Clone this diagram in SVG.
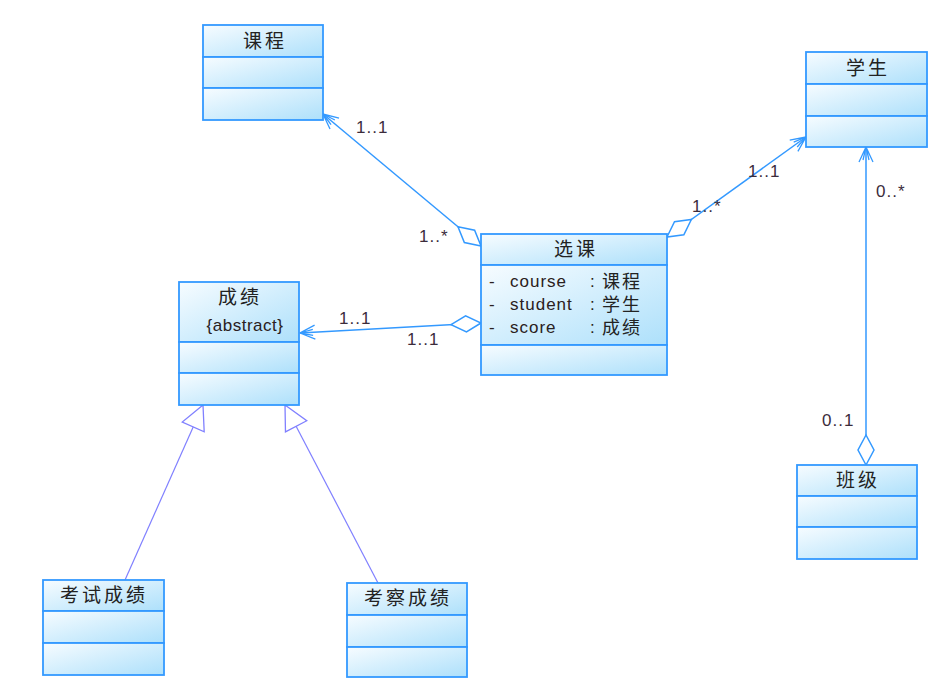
<svg xmlns="http://www.w3.org/2000/svg" width="946" height="698" viewBox="0 0 946 698">
<defs>
<linearGradient id="g" x1="0" y1="0" x2="1" y2="1">
<stop offset="0" stop-color="#f7fcff"/>
<stop offset="1" stop-color="#ade0fb"/>
</linearGradient>
<marker id="open" markerUnits="userSpaceOnUse" markerWidth="40" markerHeight="40" viewBox="-20 -20 40 40" refX="0" refY="0" orient="auto" overflow="visible">
<path d="M-15,-7 L0,0 L-15,7 M-13,-3 L0,0 L-13,3" fill="none" stroke="#3399ff" stroke-width="1.3"/>
</marker>
<marker id="dia" markerUnits="userSpaceOnUse" markerWidth="40" markerHeight="40" viewBox="-5 -20 40 40" refX="0" refY="0" orient="auto" overflow="visible">
<path d="M0,0 L15,-8 L30,0 L15,8 Z" fill="#fff" stroke="#3399ff" stroke-width="1.5"/>
</marker>
<marker id="tri" markerUnits="userSpaceOnUse" markerWidth="40" markerHeight="40" viewBox="-30 -20 40 40" refX="0" refY="0" orient="auto" overflow="visible">
<path d="M0,0 L-24,-12 L-24,12 Z" fill="#fff" stroke="#8080ff" stroke-width="1.3"/>
</marker>
</defs>
<style>
.c{fill:url(#g);stroke:#3399ff;stroke-width:1.8}
.t{font-family:"Noto Sans CJK SC","Liberation Sans",sans-serif;font-size:19px;fill:#222;text-anchor:middle;letter-spacing:3px}
.a{font-family:"Liberation Sans","Noto Sans CJK SC",sans-serif;font-size:17px;fill:#2a2020;letter-spacing:1px}
.ac{font-family:"Liberation Sans","Noto Sans CJK SC",sans-serif;font-size:18px;fill:#222;letter-spacing:2px}
.l{font-family:"Liberation Sans",sans-serif;font-size:17px;fill:#3c2c3c;letter-spacing:1px}
.as{fill:none;stroke:#3399ff;stroke-width:1.5}
.gen{fill:none;stroke:#8080ff;stroke-width:1.2}
</style>
<rect width="946" height="698" fill="#fff"/>
<g id="connectors">
<path class="as" d="M481,246 L323,114" marker-start="url(#dia)" marker-end="url(#open)"/>
<path class="as" d="M667,237 L806,137" marker-start="url(#dia)" marker-end="url(#open)"/>
<path class="as" d="M481,323 L300,333" marker-start="url(#dia)" marker-end="url(#open)"/>
<path class="as" d="M866,465 L866,147" marker-start="url(#dia)" marker-end="url(#open)"/>
<path class="gen" d="M125,580 L203,405" marker-end="url(#tri)"/>
<path class="gen" d="M378,583 L285,405" marker-end="url(#tri)"/>
<text class="l" x="356" y="133">1..1</text>
<text class="l" x="419" y="242">1..*</text>
<text class="l" x="692" y="212">1..*</text>
<text class="l" x="748" y="177">1..1</text>
<text class="l" x="876" y="197">0..*</text>
<text class="l" x="822" y="426">0..1</text>
<text class="l" x="339" y="324">1..1</text>
<text class="l" x="407" y="345">1..1</text>
</g>
<g id="kecheng">
<rect class="c" x="203" y="25" width="120" height="32"/>
<rect class="c" x="203" y="57" width="120" height="31"/>
<rect class="c" x="203" y="88" width="120" height="32"/>
<text class="t" x="265" y="48">课程</text>
</g>
<g id="xuesheng">
<rect class="c" x="806" y="52" width="121" height="32"/>
<rect class="c" x="806" y="84" width="121" height="32"/>
<rect class="c" x="806" y="116" width="121" height="31"/>
<text class="t" x="868" y="75">学生</text>
</g>
<g id="xuanke">
<rect class="c" x="481" y="234" width="186" height="31"/>
<rect class="c" x="481" y="265" width="186" height="80"/>
<rect class="c" x="481" y="345" width="186" height="30"/>
<text class="t" x="576" y="256">选课</text>
<text class="a" x="489" y="287">-</text>
<text class="a" x="510" y="287">course</text>
<text class="a" x="590" y="287">:</text>
<text class="ac" x="602" y="288">课程</text>
<text class="a" x="489" y="310">-</text>
<text class="a" x="510" y="310">student</text>
<text class="a" x="590" y="310">:</text>
<text class="ac" x="602" y="311">学生</text>
<text class="a" x="489" y="333">-</text>
<text class="a" x="510" y="333">score</text>
<text class="a" x="590" y="333">:</text>
<text class="ac" x="602" y="334">成绩</text>
</g>
<g id="chengji">
<rect class="c" x="179" y="282" width="120" height="60"/>
<rect class="c" x="179" y="342" width="120" height="31"/>
<rect class="c" x="179" y="373" width="120" height="32"/>
<text class="t" x="240" y="304">成绩</text>
<text class="a" x="245" y="331" text-anchor="middle" style="letter-spacing:0.5px">{abstract}</text>
</g>
<g id="banji">
<rect class="c" x="797" y="465" width="120" height="31"/>
<rect class="c" x="797" y="496" width="120" height="31"/>
<rect class="c" x="797" y="527" width="120" height="32"/>
<text class="t" x="858" y="487">班级</text>
</g>
<g id="kaoshichengji">
<rect class="c" x="43" y="580" width="121" height="31"/>
<rect class="c" x="43" y="611" width="121" height="32"/>
<rect class="c" x="43" y="643" width="121" height="32"/>
<text class="t" x="104" y="602">考试成绩</text>
</g>
<g id="kaochachengji">
<rect class="c" x="347" y="583" width="120" height="32"/>
<rect class="c" x="347" y="615" width="120" height="32"/>
<rect class="c" x="347" y="647" width="120" height="30"/>
<text class="t" x="408" y="605">考察成绩</text>
</g>
</svg>
